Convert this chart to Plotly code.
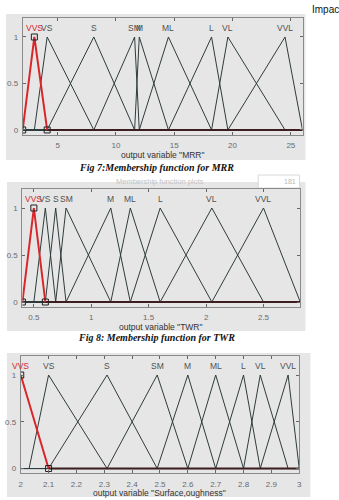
import plotly.graph_objects as go

W, H = 339, 500

# ---------------- data ----------------
MF_NAMES = ["VVS", "VS", "S", "SM", "M", "ML", "L", "VL", "VVL"]

MRR_RANGE = [2, 26]
MRR_PARAMS = [[2, 3, 4.1], [3, 4.1, 8.1], [4.1, 8.1, 11.6], [8.1, 11.6, 12.0],
              [11.6, 12.0, 14.5], [12.0, 14.5, 18.2], [14.5, 18.2, 19.6],
              [18.2, 19.6, 24.5], [19.6, 24.5, 26]]
MRR_TICKS = [5, 10, 15, 20, 25]

TWR_RANGE = [0.4, 2.82]
TWR_PARAMS = [[0.4, 0.5, 0.6], [0.5, 0.6, 0.69], [0.6, 0.69, 0.78], [0.69, 0.78, 1.17],
              [0.78, 1.17, 1.34], [1.17, 1.34, 1.6], [1.34, 1.6, 2.05],
              [1.6, 2.05, 2.5], [2.05, 2.5, 2.82]]
TWR_TICKS = [0.5, 1, 1.5, 2, 2.5]

SR_RANGE = [2, 3]
SR_PARAMS = [[1.9, 2.0, 2.1], [2.03, 2.1, 2.31], [2.1, 2.31, 2.49], [2.31, 2.49, 2.6],
             [2.49, 2.6, 2.7], [2.6, 2.7, 2.8], [2.7, 2.8, 2.86],
             [2.8, 2.86, 2.96], [2.86, 2.96, 3.0]]
SR_TICKS = [2, 2.1, 2.2, 2.3, 2.4, 2.5, 2.6, 2.7, 2.8, 2.9, 3]
SR_TICKTEXT = ["2", "2.1", "2.2", "2.3", "2.4", "2.5", "2.6", "2.7", "2.8", "2.9", "3"]

Y_TICKS = [0, 0.5, 1]
Y_TICKTEXT = ["0", "0.5", "1"]

XLABELS = ['output variable "MRR"', 'output variable "TWR"',
           'output variable "Surface,oughness"']
CAPTIONS = ["Fig 7:Membership function for MRR", "Fig 8: Membership function for TWR"]

# ---------------- style / layout (pixels) ----------------
CYAN = "#cdf9f9"
GRAY = "#e6e6e6"
DARK = "#2f3b3b"
RED = "#d8262a"
BASE = "#3d1d1d"
TXT = "#505050"

panels = [
    dict(rng=MRR_RANGE, params=MRR_PARAMS, ticks=MRR_TICKS, ticktext=[str(t) for t in MRR_TICKS],
         xpx=(21, 305), ypx=(18.4, 134.6), frame=(4, 308, 14, 160), xlab_y=155),
    dict(rng=TWR_RANGE, params=TWR_PARAMS, ticks=TWR_TICKS, ticktext=["0.5", "1", "1.5", "2", "2.5"],
         xpx=(20.7, 302.7), ypx=(189.2, 306.7), frame=(5, 308, 182, 331), xlab_y=326.5),
    dict(rng=SR_RANGE, params=SR_PARAMS, ticks=SR_TICKS, ticktext=SR_TICKTEXT,
         xpx=(19, 301.7), ypx=(356.3, 473.2), frame=(5, 313, 353, 497), xlab_y=492.5),
]
CAPTION_Y = [167, 337.5]


def px(x):
    return x / W


def py(y):
    return 1 - y / H


fig = go.Figure()
shapes = []
annotations = []
layout = {}

for i, p in enumerate(panels):
    n = "" if i == 0 else str(i + 1)
    xa, ya = "x" + n, "y" + n
    lo, hi = p["rng"]
    # frame
    fx0, fx1, fy0, fy1 = p["frame"]
    shapes.append(dict(type="rect", xref="paper", yref="paper", x0=px(fx0), x1=px(fx1),
                       y0=py(fy1), y1=py(fy0), fillcolor=GRAY, line=dict(width=0), layer="below"))
    # dark membership functions (full range)
    for j, (a, b, c) in enumerate(p["params"]):
        if j == 0:
            continue
        fig.add_trace(go.Scatter(x=[lo, a, b, c, hi], y=[0, 0, 1, 0, 0], mode="lines",
                                 line=dict(color=DARK, width=1), xaxis=xa, yaxis=ya,
                                 showlegend=False, hoverinfo="skip"))
    # selected (first) membership function in red
    a, b, c = p["params"][0]
    fig.add_trace(go.Scatter(x=[c, hi], y=[0, 0], mode="lines",
                             line=dict(color=BASE, width=2), xaxis=xa, yaxis=ya,
                             showlegend=False, hoverinfo="skip"))
    fig.add_trace(go.Scatter(x=[a, b, c], y=[0, 1, 0], mode="lines",
                             line=dict(color=RED, width=2), xaxis=xa, yaxis=ya,
                             showlegend=False, hoverinfo="skip"))
    fig.add_trace(go.Scatter(x=[a, b, c], y=[0, 1, 0], mode="markers",
                             marker=dict(symbol="square-open", size=6, color="#202020",
                                         line=dict(width=1)),
                             xaxis=xa, yaxis=ya, showlegend=False, hoverinfo="skip"))
    # labels
    for j, (name, prm) in enumerate(zip(MF_NAMES, p["params"])):
        annotations.append(dict(x=prm[1], y=1.1, xref=xa, yref=ya, text=name, showarrow=False,
                                font=dict(family="Liberation Sans", size=8.5,
                                          color=RED if j == 0 else TXT),
                                xanchor="center", yanchor="middle"))
    # x label
    annotations.append(dict(x=px((p["xpx"][0] + p["xpx"][1]) / 2), y=py(p["xlab_y"]),
                            xref="paper", yref="paper", text=XLABELS[i], showarrow=False,
                            font=dict(family="Liberation Sans", size=8.5, color="#333333"),
                            xanchor="center", yanchor="middle"))
    axcommon = dict(showgrid=False, zeroline=False, showline=True, mirror="ticks",
                    linecolor="#8a8a8a", linewidth=1, ticks="inside", ticklen=3,
                    tickcolor="#666666", tickfont=dict(family="Liberation Sans", size=8, color="#6a6a6a"),
                    fixedrange=True)
    layout["xaxis" + n] = dict(axcommon, domain=[px(p["xpx"][0]), px(p["xpx"][1])],
                               range=[lo, hi], anchor=ya, tickmode="array",
                               tickvals=p["ticks"], ticktext=p["ticktext"], ticklabelstandoff=3)
    layout["yaxis" + n] = dict(axcommon, domain=[py(p["ypx"][1]), py(p["ypx"][0])],
                               range=[-0.05, 1.2], anchor=xa, tickmode="array",
                               tickvals=Y_TICKS, ticktext=Y_TICKTEXT, ticklabelstandoff=2)

# captions
for cap, cy in zip(CAPTIONS, CAPTION_Y):
    annotations.append(dict(x=px(157), y=py(cy), xref="paper", yref="paper",
                            text="<b><i>" + cap + "</i></b>", showarrow=False,
                            font=dict(family="Liberation Serif", size=10, color="#111111"),
                            xanchor="center", yanchor="middle"))

# page header text
annotations.append(dict(x=px(313), y=py(9), xref="paper", yref="paper", text="Impac",
                        showarrow=False, font=dict(family="Liberation Sans", size=10, color="#111111"),
                        xanchor="left", yanchor="middle"))

# window header of second figure
annotations.append(dict(x=px(160), y=py(181), xref="paper", yref="paper",
                        text="Membership function plots", showarrow=False,
                        font=dict(family="Liberation Sans", size=7.5, color="#c4c4c4"),
                        xanchor="center", yanchor="middle"))
shapes.append(dict(type="rect", xref="paper", yref="paper", x0=px(260), x1=px(302),
                   y0=py(188), y1=py(175), fillcolor="white",
                   line=dict(color="#d8d8d8", width=1), layer="below"))
annotations.append(dict(x=px(292), y=py(181), xref="paper", yref="paper", text="181",
                        showarrow=False, font=dict(family="Liberation Sans", size=7, color="#b8b8b8"),
                        xanchor="center", yanchor="middle"))

fig.update_layout(width=W, height=H, margin=dict(l=0, r=0, t=0, b=0),
                  paper_bgcolor="white", plot_bgcolor=CYAN,
                  shapes=shapes, annotations=annotations, showlegend=False, **layout)

fig.write_html("out.html", config={"displayModeBar": False})
